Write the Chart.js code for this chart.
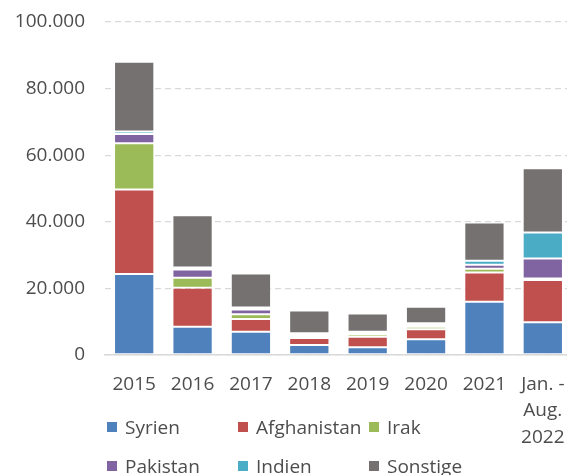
<!DOCTYPE html>
<html>
<head>
<meta charset="utf-8">
<script src="https://cdn.jsdelivr.net/npm/chart.js@4/dist/chart.umd.min.js"></script>
<style>
  html, body { margin: 0; padding: 0; background: #fff; overflow: hidden; }
  #wrap { position: relative; width: 572px; height: 475px; }
  #legende {
    position: absolute; left: 107px; top: 407px;
    display: grid; grid-template-columns: 131px 131px 131px; grid-auto-rows: 39px;
    font-family: 'Open Sans', sans-serif; font-size: 19px; color: #4d4d4d;
  }
  .eintrag { display: flex; align-items: center; white-space: nowrap; }
  .kasten { width: 10px; height: 10px; margin-right: 8px; }
</style>
</head>
<body>
<div id="wrap">
  <canvas id="grafik" width="572" height="475"></canvas>
  <div id="legende"></div>
</div>
<script>
const jahre = ['2015', '2016', '2017', '2018', '2019', '2020', '2021', ['Jan. -', 'Aug.', '2022']]

const syrien = [24300, 8500, 7000, 3000, 2300, 4700, 16000, 9800]
const afghanistan = [25400, 11700, 3800, 2100, 3200, 3000, 8800, 12700]
const irak = [13900, 3000, 1400, 600, 700, 800, 1100, 500]
const pakistan = [2800, 2500, 1500, 400, 300, 400, 1200, 6000]
const indien = [700, 600, 600, 400, 500, 600, 1200, 7800]
const sonstige = [21000, 15700, 10200, 6900, 5500, 5000, 11500, 19300]

const yTicks = [0, 20000, 40000, 60000, 80000, 100000]

const schrift = { family: "'Open Sans', sans-serif", size: 19, lineHeight: 1.4 }
const grau = '#4d4d4d'

const serie = (label, data, farbe) => ({
    label: label,
    data: data,
    backgroundColor: farbe,
    borderColor: 'rgba(255,255,255,0.3)',
    borderWidth: 1,
    borderSkipped: false,
    barPercentage: 0.69,
    categoryPercentage: 1
})

const data = {
    labels: jahre,
    datasets: [
        serie('Syrien', syrien, '#4F81BD'),
        serie('Afghanistan', afghanistan, '#C0504D'),
        serie('Irak', irak, '#9BBB59'),
        serie('Pakistan', pakistan, '#8064A2'),
        serie('Indien', indien, '#4BACC6'),
        serie('Sonstige', sonstige, '#767171')
    ]
}

const options = {
    responsive: false,
    animation: false,
    layout: { padding: { top: 22, left: 0, right: 0, bottom: 0 } },
    plugins: { legend: { display: false }, tooltip: { enabled: false } },
    scales: {
        x: {
            stacked: true,
            grid: { display: false, drawTicks: false },
            border: { display: true, color: '#D9D9D9', width: 1.5 },
            ticks: { font: schrift, color: grau, padding: 16, maxRotation: 0, autoSkip: false },
            afterFit: (s) => { s.height = 120; s.paddingLeft = 0; s.paddingRight = 0 }
        },
        y: {
            stacked: true,
            min: 0,
            max: 100000,
            afterBuildTicks: (s) => { s.ticks = yTicks.map(v => ({ value: v })) },
            grid: { color: '#D9D9D9', lineWidth: 1.3, drawTicks: false },
            border: { display: false, dash: [6, 4] },
            ticks: {
                font: schrift, color: grau, padding: 20,
                callback: (v) => v.toLocaleString('de-DE')
            },
            afterFit: (s) => { s.width = 105; s.paddingTop = 0; s.paddingBottom = 0 }
        }
    }
}

const grafik = new Chart(document.getElementById('grafik'), { type: 'bar', data: data, options: options })

// Legende als HTML, aus den Datensaetzen gebaut
const legende = document.getElementById('legende')
data.datasets.forEach(ds => {
    const e = document.createElement('div')
    e.className = 'eintrag'
    e.innerHTML = '<span class="kasten" style="background:' + ds.backgroundColor + '"></span>' + ds.label
    legende.appendChild(e)
})
</script>
</body>
</html>
